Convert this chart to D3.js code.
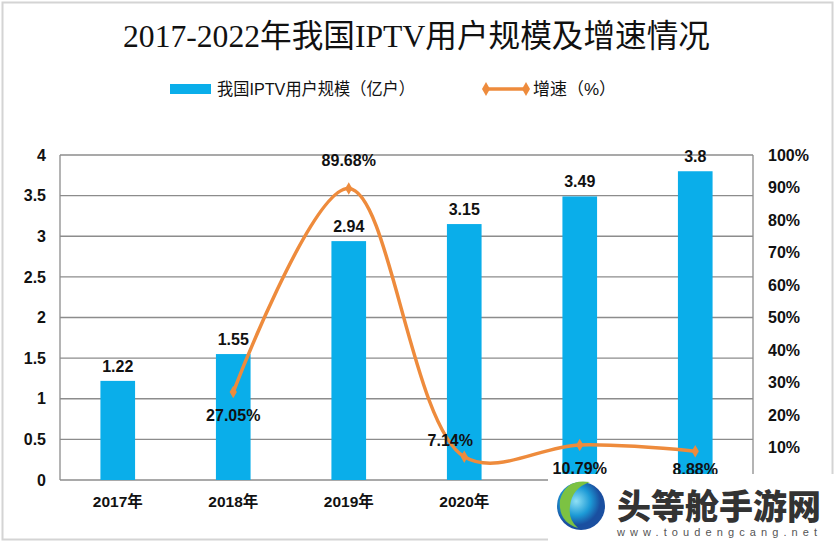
<!DOCTYPE html>
<html><head><meta charset="utf-8">
<script src="https://cdn.jsdelivr.net/npm/d3@7"></script>
<style>body{margin:0;background:#fff}svg{display:block}</style>
</head><body>
<svg id="c" width="836" height="544"></svg>
<script>
const categories = ["2017年","2018年","2019年","2020年","2021年","2022年"];
const users = [1.22, 1.55, 2.94, 3.15, 3.49, 3.8];
const growthYears = ["2018年","2019年","2020年","2021年","2022年"];
const growth = [27.05, 89.68, 7.14, 10.79, 8.88];
const leftTicks = [0,0.5,1,1.5,2,2.5,3,3.5,4];
const rightTicks = [0,10,20,30,40,50,60,70,80,90,100];

const svg = d3.select("#c");
const m={l:60,r:753,t:155,b:480};
const sans = "'Liberation Sans','Noto Sans CJK SC',sans-serif";
const blue="#0AAEEA", orange="#EE8B3C";

svg.append("rect").attr("x",2.5).attr("y",2.5).attr("width",830).attr("height",537).attr("fill","#fff").attr("stroke","#d4d4d4").attr("stroke-width",2);

const x = d3.scaleBand().domain(categories).range([m.l,m.r]).paddingInner(0.7).paddingOuter(0.35);
const y = d3.scaleLinear().domain([0,4]).range([m.b,m.t]);
const y2 = d3.scaleLinear().domain([0,100]).range([m.b,m.t]);

// gridlines
svg.append("g").selectAll("line").data(leftTicks).join("line")
  .attr("x1",m.l).attr("x2",m.r).attr("y1",d=>y(d)).attr("y2",d=>y(d))
  .attr("stroke","#8c8c8c").attr("stroke-width",1.3);
svg.append("line").attr("x1",m.l).attr("x2",m.l).attr("y1",m.t).attr("y2",m.b).attr("stroke","#8c8c8c").attr("stroke-width",1.3);
svg.append("line").attr("x1",m.r).attr("x2",m.r).attr("y1",m.t).attr("y2",m.b).attr("stroke","#8c8c8c").attr("stroke-width",1.3);

// left axis labels
const ax = d3.axisLeft(y).tickValues(leftTicks).tickSize(0).tickPadding(14).tickFormat(d3.format("~g"));
const gL = svg.append("g").attr("transform",`translate(${m.l},0)`).call(ax);
gL.select(".domain").remove();
gL.selectAll("text").attr("font-family",sans).attr("font-weight","bold").attr("font-size",16).attr("fill","#111");

const axR = d3.axisRight(y2).tickValues(rightTicks).tickSize(0).tickPadding(15).tickFormat(d=>d+"%");
const gR = svg.append("g").attr("transform",`translate(${m.r},0)`).call(axR);
gR.select(".domain").remove();
gR.selectAll("text").attr("font-family",sans).attr("font-weight","bold").attr("font-size",16).attr("fill","#111");

// x axis labels
const axB = d3.axisBottom(x).tickSize(0).tickPadding(16);
const gB = svg.append("g").attr("transform",`translate(0,${m.b})`).call(axB);
gB.select(".domain").remove();
gB.selectAll("text").attr("font-family",sans).attr("font-weight","bold").attr("font-size",15.5).attr("fill","#111");

// bars
svg.append("g").selectAll("rect").data(users).join("rect")
  .attr("x",(d,i)=>x(categories[i])).attr("width",x.bandwidth())
  .attr("y",d=>y(d)).attr("height",d=>y(0)-y(d)).attr("fill",blue);
svg.append("g").selectAll("text").data(users).join("text")
  .attr("x",(d,i)=>x(categories[i])+x.bandwidth()/2).attr("y",d=>y(d)-9)
  .attr("text-anchor","middle").attr("font-family",sans).attr("font-weight","bold").attr("font-size",16).attr("fill","#111")
  .text(d=>d);

// line
const cx = c=>x(c)+x.bandwidth()/2;
const pts = growth.map((g,i)=>[cx(growthYears[i]), y2(g)]);
svg.append("path").attr("d",d3.line().curve(d3.curveCatmullRom.alpha(0.5))(pts))
  .attr("fill","none").attr("stroke",orange).attr("stroke-width",3.5);
svg.append("g").selectAll("path").data(pts).join("path")
  .attr("transform",d=>`translate(${d[0]},${d[1]})`)
  .attr("d",d3.symbol(d3.symbolDiamond,45)).attr("fill",orange);
const offs=[[0,29],[0,-23],[-14,-11],[0,29],[0,24]];
svg.append("g").selectAll("text").data(growth).join("text")
  .attr("x",(d,i)=>pts[i][0]+offs[i][0]).attr("y",(d,i)=>pts[i][1]+offs[i][1])
  .attr("text-anchor","middle").attr("font-family",sans).attr("font-weight","bold").attr("font-size",16).attr("fill","#111")
  .text(d=>d.toFixed(2)+"%");

// title
svg.append("text").attr("x",123).attr("y",47).attr("textLength",587).attr("lengthAdjust","spacingAndGlyphs")
  .attr("font-family","'Liberation Serif','Noto Sans CJK SC',serif").attr("font-size",32).attr("fill","#111")
  .text("2017-2022年我国IPTV用户规模及增速情况");

// legend
svg.append("rect").attr("x",170).attr("y",84).attr("width",41).attr("height",10).attr("fill",blue);
svg.append("text").attr("x",217).attr("y",95).attr("textLength",198).attr("lengthAdjust","spacingAndGlyphs")
  .attr("font-family",sans).attr("font-size",17).attr("fill","#111").text("我国IPTV用户规模（亿户）");
svg.append("line").attr("x1",486).attr("x2",526).attr("y1",89).attr("y2",89).attr("stroke",orange).attr("stroke-width",3.5);
[486,526].forEach(px=>svg.append("path").attr("transform",`translate(${px},89)`).attr("d",d3.symbol(d3.symbolDiamond,55)).attr("fill",orange));
svg.append("text").attr("x",533).attr("y",95).attr("font-family",sans).attr("font-size",17).attr("fill","#111").text("增速（%）");

// watermark
const wm = svg.append("g");
wm.append("rect").attr("x",548).attr("y",474).attr("width",288).attr("height",70).attr("fill","#fff");
const grad = svg.append("defs").append("radialGradient").attr("id","gl").attr("cx","40%").attr("cy","40%");
grad.append("stop").attr("offset","0%").attr("stop-color","#8fe0f5");
grad.append("stop").attr("offset","60%").attr("stop-color","#1c9ad6");
grad.append("stop").attr("offset","100%").attr("stop-color","#1a4fa0");
wm.append("circle").attr("cx",581).attr("cy",506).attr("r",24).attr("fill","url(#gl)");
wm.append("path").attr("d","M560,500 Q566,478 590,482 Q572,488 570,506 Q568,520 578,528 Q558,522 560,500Z").attr("fill","#7cc242");
wm.append("text").attr("x",617).attr("y",519).attr("font-family","'Noto Sans CJK SC',sans-serif").attr("font-weight","900").attr("font-size",34).attr("fill","#333").text("头等舱手游网");
wm.append("text").attr("x",617).attr("y",536).attr("font-family",sans).attr("font-size",11).attr("letter-spacing",5.1).attr("fill","#555").text("www.toudengcang.net");
</script>
</body></html>
